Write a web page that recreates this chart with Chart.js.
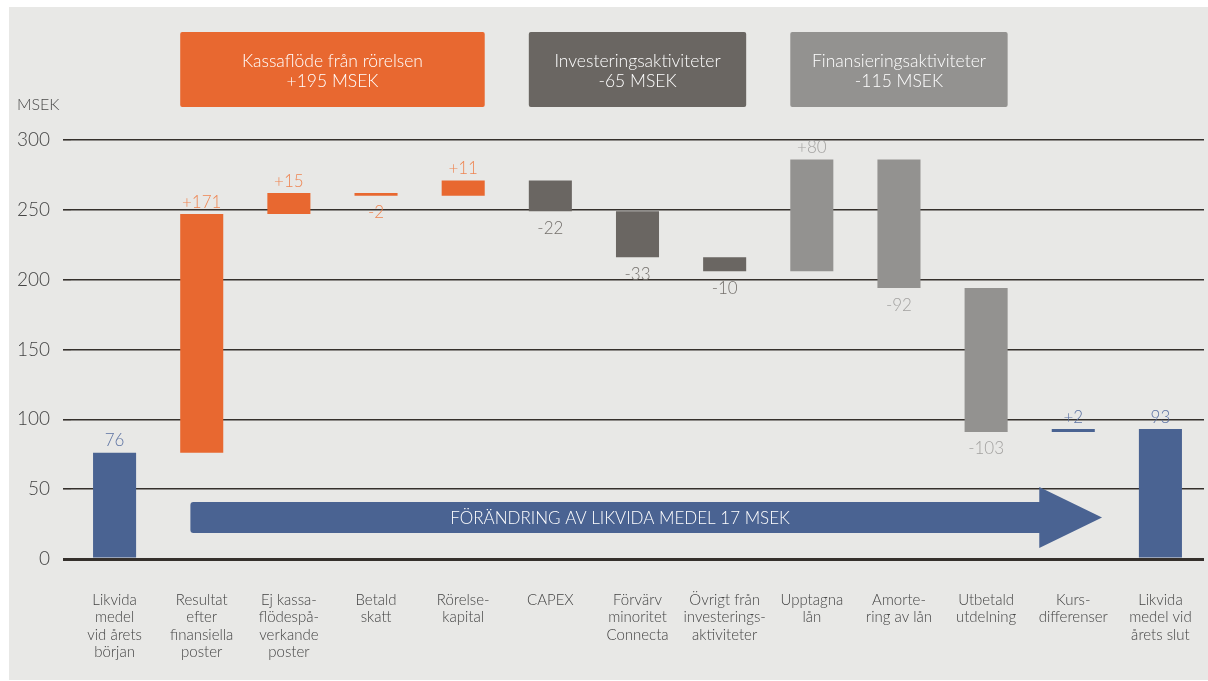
<!DOCTYPE html>
<html>
<head>
<meta charset="utf-8">
<script src="https://cdn.jsdelivr.net/npm/chart.js@4/dist/chart.umd.min.js"></script>
<style>
  html, body { margin: 0; padding: 0; background: #ffffff; }
  #panel { position: absolute; left: 9px; top: 7px; width: 1199px; height: 673px; background: #e8e8e6; }
  #chart { position: absolute; left: 0; top: 0; }
</style>
</head>
<body>
<div id="panel"></div>
<canvas id="chart" width="1208" height="681"></canvas>
<script>
// Categories (multi-line tick labels)
const categories = [
  ['Likvida', 'medel', 'vid årets', 'början'],
  ['Resultat', 'efter', 'finansiella', 'poster'],
  ['Ej kassa-', 'flödespå-', 'verkande', 'poster'],
  ['Betald', 'skatt'],
  ['Rörelse-', 'kapital'],
  ['CAPEX'],
  ['Förvärv', 'minoritet', 'Connecta'],
  ['Övrigt från', 'investerings-', 'aktiviteter'],
  ['Upptagna', 'lån'],
  ['Amorte-', 'ring av lån'],
  ['Utbetald', 'utdelning'],
  ['Kurs-', 'differenser'],
  ['Likvida', 'medel vid', 'årets slut']
];

// MSEK: balances for the first/last bar, changes for the others
const values = [76, 171, 15, -2, 11, -22, -33, -10, 80, -92, -103, 2, 93];
const isBalance = [true, false, false, false, false, false, false, false, false, false, false, false, true];
const groups = ['balance', 'operations', 'operations', 'operations', 'operations',
  'investing', 'investing', 'investing', 'financing', 'financing', 'financing', 'balance', 'balance'];

// Header boxes over the groups
const boxTitles = ['Kassaflöde från rörelsen', 'Investeringsaktiviteter', 'Finansieringsaktiviteter'];
const boxTotals = ['+195 MSEK', '-65 MSEK', '-115 MSEK'];
const boxSpans = [[1, 4], [5, 7], [8, 10]];
const boxGroups = ['operations', 'investing', 'financing'];

const yTicks = [0, 50, 100, 150, 200, 250, 300];
const arrowText = 'FÖRÄNDRING AV LIKVIDA MEDEL 17 MSEK';

const barColors = { balance: '#4a6392', operations: '#e86830', investing: '#6a6662', financing: '#939290' };
const labelColors = { balance: '#5c72a2', operations: '#ee8552', investing: '#74706c', financing: '#a3a2a0' };
const FONT = 'Lato, "Open Sans", sans-serif';

// floating bar ranges
let running = 0;
const ranges = values.map((v, i) => {
  if (isBalance[i]) { running = v; return [0, v]; }
  const r = [running, running + v];
  running += v;
  return r;
});
const valueLabels = values.map((v, i) => isBalance[i] ? String(v) : (v > 0 ? '+' + v : String(v)));

const decorPlugin = {
  id: 'decor',
  beforeDatasetsDraw(chart) {
    const { ctx } = chart;
    const x = chart.scales.x, y = chart.scales.y;
    // arrow
    const x0 = x.getPixelForValue(0.87), xb = x.getPixelForValue(10.61), xt = x.getPixelForValue(11.33);
    const yTop = y.getPixelForValue(40.8), yBot = y.getPixelForValue(18.6);
    const hTop = y.getPixelForValue(51.5), hBot = y.getPixelForValue(7.9);
    const yMid = (yTop + yBot) / 2;
    const r = 3;
    ctx.save();
    ctx.fillStyle = '#4a6392';
    ctx.beginPath();
    ctx.moveTo(x0 + r, yTop);
    ctx.lineTo(xb, yTop);
    ctx.lineTo(xb, hTop);
    ctx.lineTo(xt, yMid);
    ctx.lineTo(xb, hBot);
    ctx.lineTo(xb, yBot);
    ctx.lineTo(x0 + r, yBot);
    ctx.quadraticCurveTo(x0, yBot, x0, yBot - r);
    ctx.lineTo(x0, yTop + r);
    ctx.quadraticCurveTo(x0, yTop, x0 + r, yTop);
    ctx.closePath();
    ctx.fill();
    ctx.fillStyle = '#ffffff';
    ctx.font = '300 17px ' + FONT;
    ctx.textAlign = 'center';
    ctx.textBaseline = 'middle';
    ctx.fillText(arrowText, x.getPixelForValue(5.8), yMid + 1);
    ctx.restore();
  },
  afterDatasetsDraw(chart) {
    const { ctx } = chart;
    const x = chart.scales.x;
    const meta = chart.getDatasetMeta(0);
    ctx.save();
    ctx.font = '300 17px ' + FONT;
    ctx.textAlign = 'center';
    ctx.textBaseline = 'middle';
    meta.data.forEach((bar, i) => {
      const top = Math.min(bar.y, bar.base), bottom = Math.max(bar.y, bar.base);
      ctx.fillStyle = labelColors[groups[i]];
      if (values[i] >= 0) ctx.fillText(valueLabels[i], bar.x, top - 12);
      else ctx.fillText(valueLabels[i], bar.x, bottom + 17);
    });
    // header boxes
    const half = meta.data[0].width / 2;
    boxSpans.forEach((span, k) => {
      const left = x.getPixelForValue(span[0]) - half;
      const right = x.getPixelForValue(span[1]) + half;
      ctx.fillStyle = barColors[boxGroups[k]];
      ctx.beginPath();
      ctx.roundRect(left, 32, right - left, 75, 2);
      ctx.fill();
      ctx.fillStyle = '#ffffff';
      ctx.font = '300 17.5px ' + FONT;
      ctx.fillText(boxTitles[k], (left + right) / 2, 61);
      ctx.fillText(boxTotals[k], (left + right) / 2, 81);
    });
    // axis unit
    ctx.fillStyle = '#4a4a4a';
    ctx.font = '300 16px ' + FONT;
    ctx.textAlign = 'left';
    ctx.fillText('MSEK', 17, 105);
    ctx.restore();
  }
};

new Chart(document.getElementById('chart'), {
  type: 'bar',
  data: {
    labels: categories,
    datasets: [{
      data: ranges,
      backgroundColor: groups.map(g => barColors[g]),
      borderWidth: 0,
      borderSkipped: false,
      barPercentage: 0.494,
      categoryPercentage: 1
    }]
  },
  options: {
    responsive: false,
    animation: false,
    layout: { padding: { top: 140, left: 11, right: 4, bottom: 0 } },
    plugins: { legend: { display: false }, tooltip: { enabled: false } },
    scales: {
      x: {
        grid: { display: false, drawTicks: false },
        border: { display: false },
        ticks: { color: '#444444', padding: 32, maxRotation: 0, autoSkip: false,
          font: { family: FONT, size: 15, weight: '300', lineHeight: 1.17 } },
        afterFit(scale) { scale.height = 122; scale.paddingLeft = 0; scale.paddingRight = 0; }
      },
      y: {
        min: 0, max: 300,
        afterBuildTicks(scale) { scale.ticks = yTicks.map(v => ({ value: v })); },
        grid: {
          color: '#35302c',
          tickColor: '#35302c',
          lineWidth: ctx => ctx.tick && ctx.tick.value === 0 ? 3 : 1.6,
          tickWidth: ctx => ctx.tick && ctx.tick.value === 0 ? 3 : 1.6,
          tickLength: 8,
          drawTicks: true
        },
        border: { display: false },
        ticks: { color: '#444444', padding: 13, font: { family: FONT, size: 19, weight: '300' } },
        afterFit(scale) { scale.width = 60; }
      }
    }
  },
  plugins: [decorPlugin]
});
</script>
</body>
</html>
